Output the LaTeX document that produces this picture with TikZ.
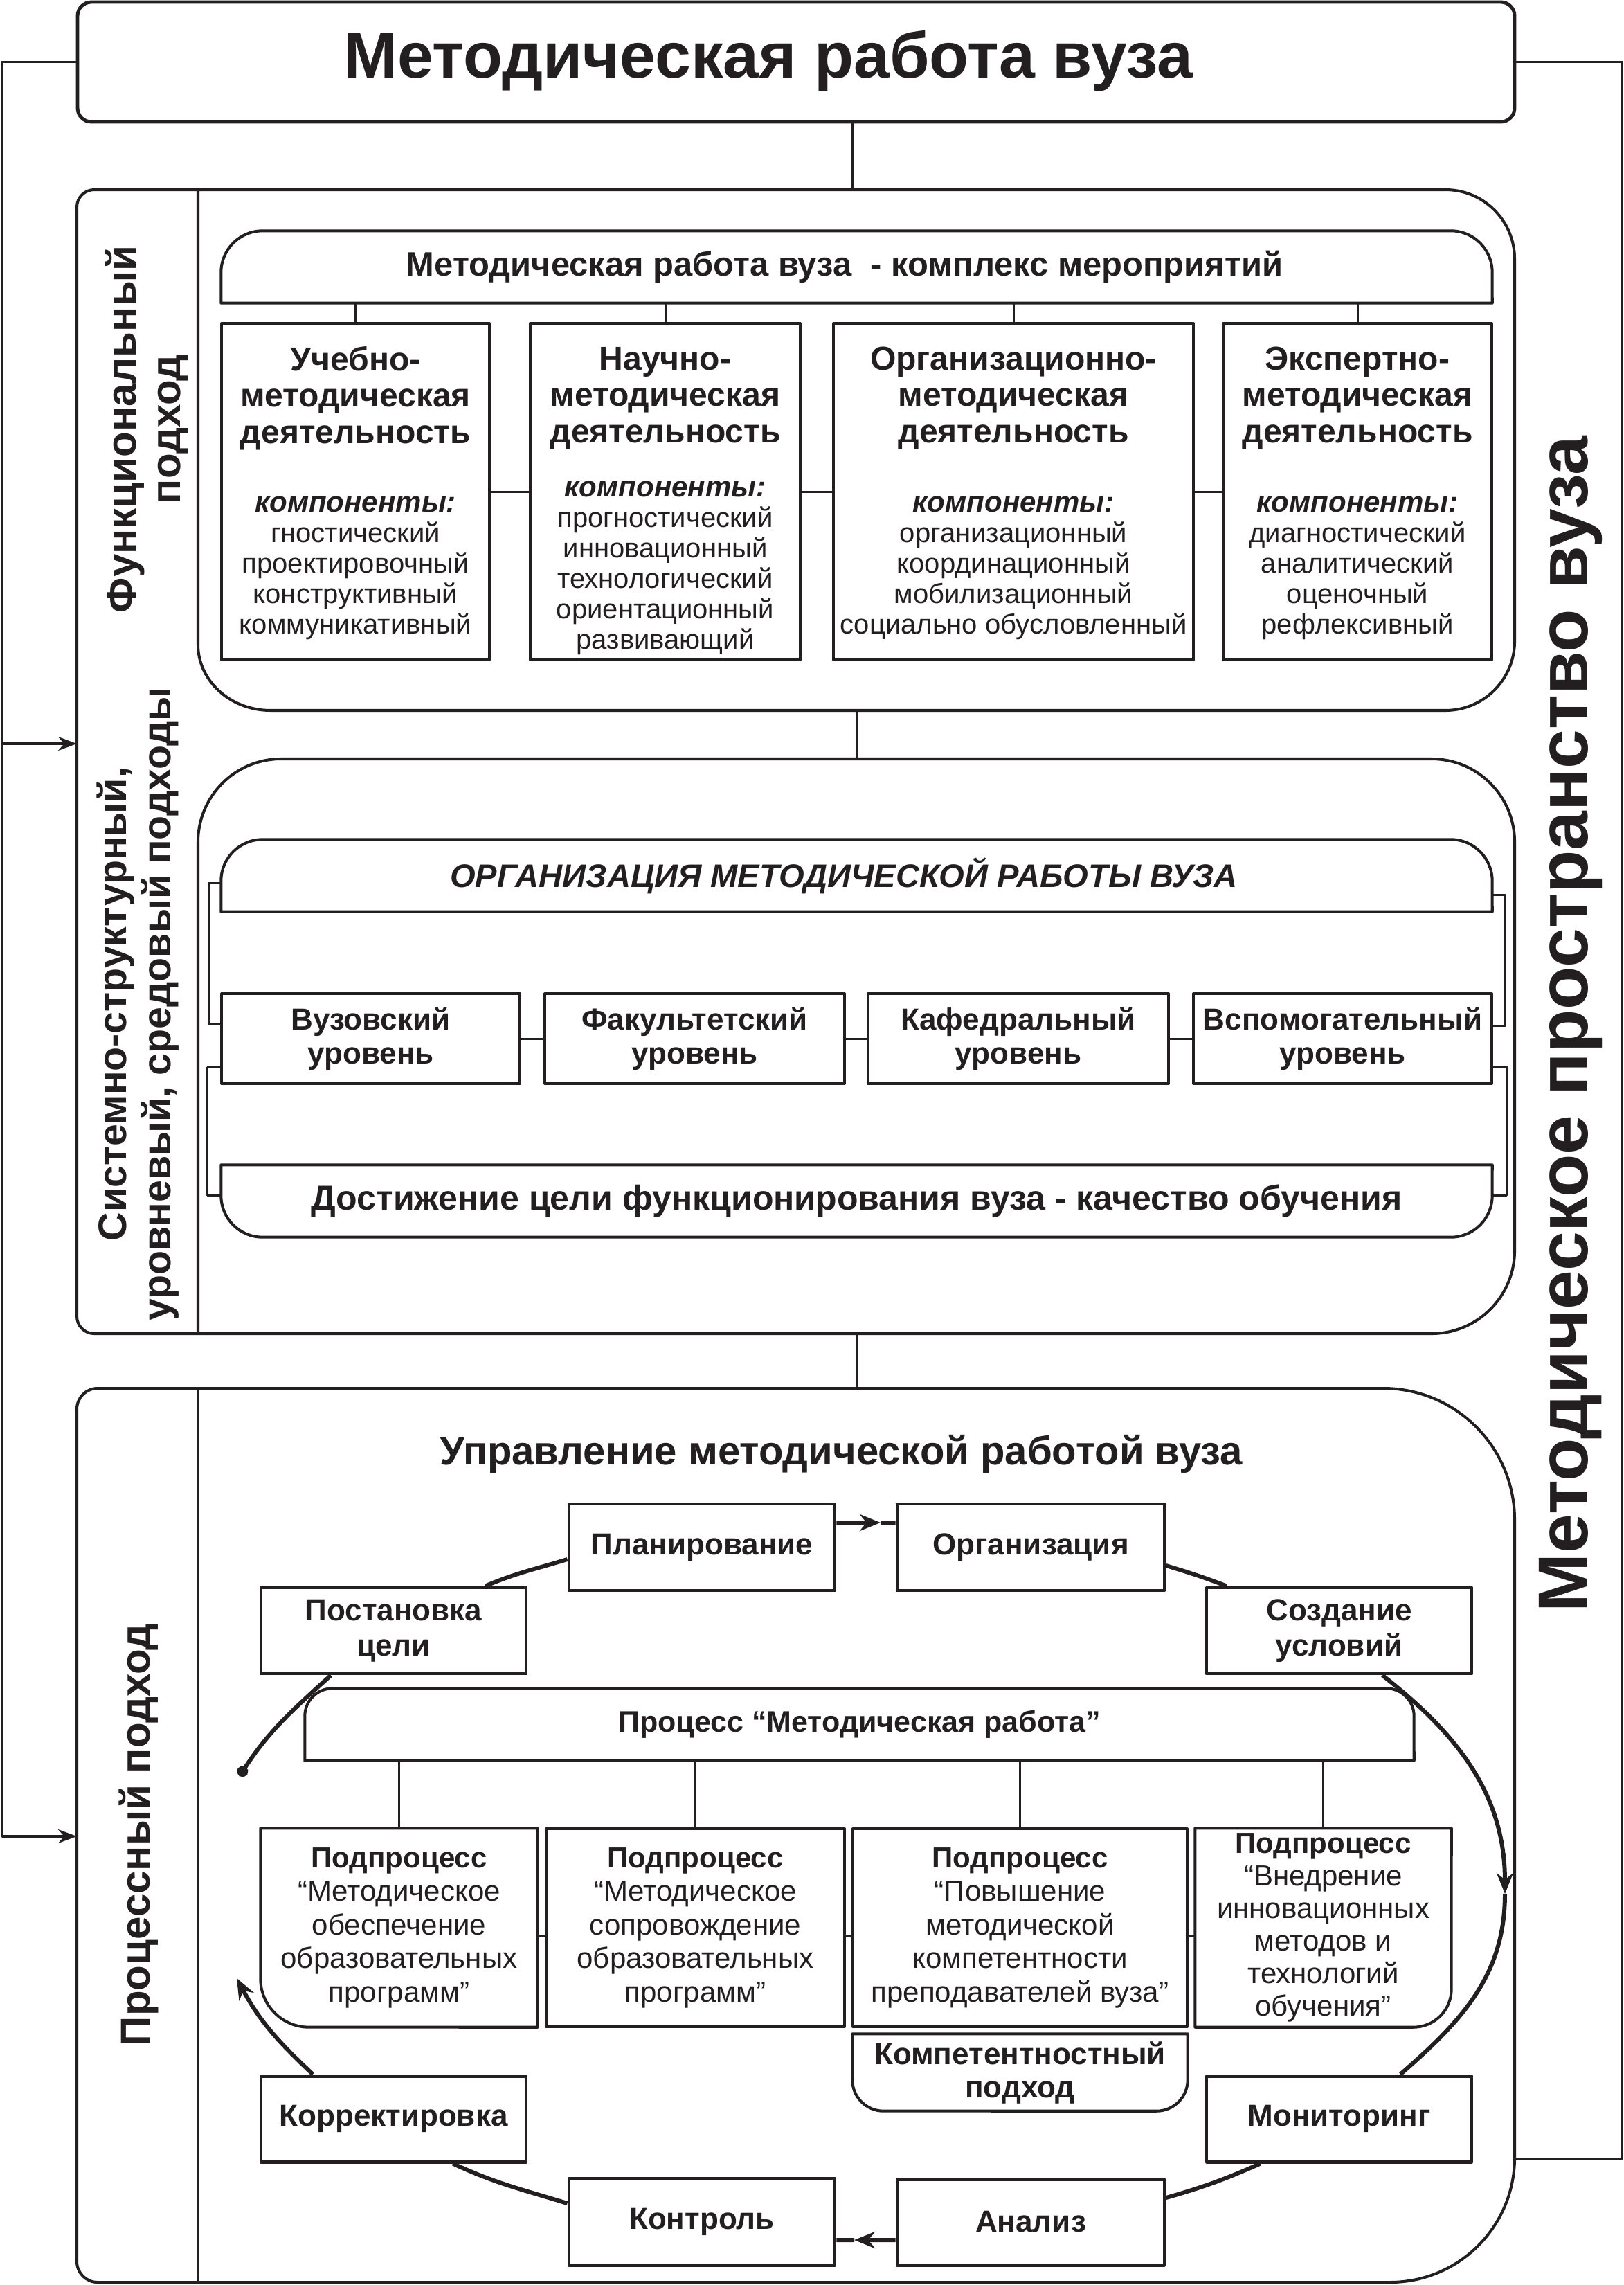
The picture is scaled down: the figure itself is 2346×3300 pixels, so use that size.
\documentclass[tikz,border=0pt]{standalone}
\usepackage{fontspec}
\setmainfont{Liberation Sans}
\usetikzlibrary{arrows.meta,calc}
\definecolor{ink}{HTML}{231F20}
\newcommand\fs[2]{\fontsize{#1}{#2}\selectfont}
\newcommand\komp{{\bfseries\itshape\fontsize{11.95pt}{12.52pt}\selectfont компоненты:}}
\newcommand\bx[6]{\node[#1, minimum width={(#5-#3)*0.01cm}, minimum height={(#6-#4)*0.01cm}] (#2) at ({(#3+#5)/2},{-(#4+#6)/2})}
\begin{document}
\begin{tikzpicture}[x=0.01cm,y=0.01cm,color=ink,line join=round,
  outl/.style={line width=1.15pt},
  bline/.style={line width=1.15pt},
  conn/.style={line width=0.85pt},
  sideline/.style={line width=1pt},
  loopline/.style={line width=1.7pt},
  midtip/.style={-{Stealth[length=0.3cm,width=0.24cm]}},
  cyc/.style={draw,line width=1.4pt,inner sep=0pt,align=center,font=\bfseries\fs{12.52pt}{14.5pt}},
  fbx/.style={draw,line width=1.15pt,inner sep=0pt},
  lvl/.style={draw,line width=1.15pt,inner sep=0pt,align=center,font=\bfseries\fs{12.52pt}{13.77pt}},
  plain/.style={inner sep=0pt},
  spx/.style={inner sep=0pt,align=center,font=\fs{11.95pt}{13.8pt}},
  ftitle/.style={inner sep=0pt,align=center,font=\bfseries\fs{13.66pt}{14.94pt}},
  fcomp/.style={inner sep=0pt,align=center,font=\fs{11.38pt}{12.52pt}},
  vlab/.style={rotate=90,inner sep=0pt,align=center,font=\bfseries\fs{17.07pt}{18.2pt}}]
\useasboundingbox (0,0) rectangle (2346,-3300);

% ---------- top box ----------
\bx{draw,line width=1.4pt,rounded corners=0.2cm,inner sep=0pt}{tb}{112}{3}{2188}{176}{};
\node[anchor=base,font=\bfseries\fs{26.5pt}{30pt}] (ttl) at (1110,-113) {Методическая работа вуза};

% side lines
\coordinate (Lt) at (3,-89.5);
\coordinate (La) at (3,-1074);
\coordinate (Lb) at (3,-2652);
\coordinate (Ia) at (111,-1074);
\coordinate (Ib) at (111,-2652);
\draw[sideline,-{Stealth[length=0.27cm,width=0.2cm]}] (tb.west) -- (Lt) -- (Lb) -- (Ib);
\draw[sideline,-{Stealth[length=0.27cm,width=0.2cm]}] (La) -- (Ia);
\coordinate (Rt) at (2343,-89.5);
\coordinate (Rb) at (2343,-3118);
\coordinate (Rc) at (2188,-3118);
\draw[sideline] (tb.east) -- (Rt) -- (Rb) -- (Rc);

% connectors between big blocks
\coordinate (ffT) at (1231,-274);
\draw[conn] (tb.south -| ffT) -- (ffT);
\coordinate (ffB) at (1237,-1026);
\coordinate (sfT) at (1237,-1096);
\draw[conn] (ffB) -- (sfT);
\coordinate (sfB) at (1237,-1926);
\coordinate (pbT) at (1237,-2005);
\draw[conn] (sfB) -- (pbT);

% ---------- upper frame ----------
\draw[outl,rounded corners=0.25cm] (286,-274) -- (111,-274) -- (111,-1926) -- (286,-1926);
\draw[outl] (286,-274) -- (2088,-274) arc[start angle=90,end angle=0,radius=100]
  -- (2188,-926) arc[start angle=0,end angle=-90,radius=100]
  -- (391,-1026) arc[start angle=270,end angle=180,x radius=105,y radius=95] -- (286,-274);
\draw[outl] (286,-1926) -- (286,-1216) arc[start angle=180,end angle=90,radius=120]
  -- (2068,-1096) arc[start angle=90,end angle=0,radius=120]
  -- (2188,-1806) arc[start angle=0,end angle=-90,radius=120] -- (286,-1926);

\node[vlab] (lab1) at (212,-620) {Функциональный\\подход};
\node[vlab,font=\bfseries\fs{16.3pt}{18.2pt}] (lab2) at (199,-1450) {Системно-структурный,\\уровневый, средовый подходы};
\node[rotate=90,anchor=base,inner sep=0pt,font=\bfseries\fs{29pt}{32pt}] (lab4) at (2293,-1479) {Методическое пространство вуза};

% functional block
\bx{plain}{hdr1}{320}{334}{2155}{437}{};
\draw[bline] (hdr1.south west) -- ([yshift=-0.6cm]hdr1.north west) arc[start angle=180,end angle=90,radius=60]
  -- ([xshift=-0.6cm]hdr1.north east) arc[start angle=90,end angle=0,radius=60] -- (hdr1.south east) -- cycle;
\node[font=\bfseries\fs{13.9pt}{15pt},inner sep=0pt] (hdr1t) at (1220,-385) {Методическая работа вуза\ \ - комплекс мероприятий};

\bx{fbx}{fb1}{320}{467}{707}{953}{};
\bx{fbx}{fb2}{766}{467}{1156}{953}{};
\bx{fbx}{fb3}{1204}{467}{1724}{953}{};
\bx{fbx}{fb4}{1767}{467}{2155}{953}{};
\foreach \b in {fb1,fb2,fb3,fb4} \draw[conn] (\b.north) -- (\b.north |- hdr1.south);
\draw[conn] (fb1) -- (fb2);
\draw[conn] (fb2) -- (fb3);
\draw[conn] (fb3) -- (fb4);

\node[ftitle] (fb1a) at (513.5,-575) {Учебно-\\методическая\\деятельность};
\node[fcomp] (fb1b) at (513.5,-820) {\komp\\гностический\\проектировочный\\конструктивный\\коммуникативный};
\node[ftitle] (fb2a) at (961,-575) {Научно-\\методическая\\деятельность};
\node[fcomp] (fb2b) at (961,-820) {\komp\\прогностический\\инновационный\\технологический\\ориентационный\\развивающий};
\node[ftitle] (fb3a) at (1464,-575) {Организационно-\\методическая\\деятельность};
\node[fcomp] (fb3b) at (1464,-820) {\komp\\организационный\\координационный\\мобилизационный\\социально обусловленный};
\node[ftitle] (fb4a) at (1961,-575) {Экспертно-\\методическая\\деятельность};
\node[fcomp] (fb4b) at (1961,-820) {\komp\\диагностический\\аналитический\\оценочный\\рефлексивный};

% structural block
\bx{plain}{hdr2}{320}{1213}{2155}{1316}{};
\draw[bline] (hdr2.south west) -- ([yshift=-0.6cm]hdr2.north west) arc[start angle=180,end angle=90,radius=60]
  -- ([xshift=-0.6cm]hdr2.north east) arc[start angle=90,end angle=0,radius=60] -- (hdr2.south east) -- cycle;
\node[font=\bfseries\itshape\fs{13.4pt}{15pt},inner sep=0pt] (hdr2t) at (1219,-1265) {ОРГАНИЗАЦИЯ МЕТОДИЧЕСКОЙ РАБОТЫ ВУЗА};

\bx{lvl}{lv1}{320}{1435}{751}{1565}{Вузовский\\уровень};
\bx{lvl}{lv2}{787}{1435}{1220}{1565}{Факультетский\\уровень};
\bx{lvl}{lv3}{1254}{1435}{1688}{1565}{Кафедральный\\уровень};
\bx{lvl}{lv4}{1724}{1435}{2155}{1565}{Вспомогательный\\уровень};
\draw[conn] (lv1) -- (lv2);
\draw[conn] (lv2) -- (lv3);
\draw[conn] (lv3) -- (lv4);

\bx{plain,font=\bfseries\fs{14.23pt}{16pt}}{goal}{320}{1683}{2155}{1786}{Достижение цели функционирования вуза - качество обучения};
\draw[bline] (goal.north west) -- ([yshift=0.6cm]goal.south west) arc[start angle=180,end angle=270,radius=60]
  -- ([xshift=-0.6cm]goal.south east) arc[start angle=270,end angle=360,radius=60] -- (goal.north east) -- cycle;

\draw[conn] ([yshift=-0.105cm]hdr2.west) -- ++(-18,0) |- ([yshift=0.21cm]lv1.west);
\draw[conn] ([yshift=-0.41cm]lv1.west) -- ++(-18,0) |- ([yshift=0.085cm]goal.west);
\draw[conn] ([yshift=-0.275cm]hdr2.east) -- ++(19,0) |- ([yshift=0.19cm]lv4.east);
\draw[conn] ([yshift=-0.4cm]lv4.east) -- ++(19,0) |- ([yshift=0.085cm]goal.east);

% ---------- process frame ----------
\draw[outl] (141,-2005) -- (1998,-2005) arc[start angle=90,end angle=0,radius=190]
  -- (2188,-3116) arc[start angle=0,end angle=-90,radius=180]
  -- (141,-3296) arc[start angle=270,end angle=180,radius=30]
  -- (111,-2035) arc[start angle=180,end angle=90,radius=30] -- cycle;
\draw[outl] (286,-2005) -- (286,-3296);
\node[rotate=90,anchor=base,inner sep=0pt,font=\bfseries\fs{17.07pt}{18.2pt}] (lab3) at (216,-2650) {Процессный подход};

\node[anchor=base,font=\bfseries\fs{16.5pt}{18pt},inner sep=0pt] (ptitle) at (1215,-2115) {Управление методической работой вуза};

\bx{cyc}{post}{377}{2293}{760}{2417}{Постановка\\цели};
\bx{cyc}{plan}{822}{2172}{1206}{2297}{Планирование};
\bx{cyc}{org}{1296}{2172}{1682}{2297}{Организация};
\bx{cyc}{cond}{1743}{2293}{2126}{2417}{Создание\\условий};
\bx{cyc}{mon}{1743}{2998}{2126}{3122}{Мониторинг};
\bx{cyc}{anal}{1296}{3147}{1682}{3271}{Анализ};
\bx{cyc}{ctrl}{822}{3146}{1206}{3271}{Контроль};
\bx{cyc}{corr}{377}{2998}{760}{3122}{Корректировка};

\bx{plain,font=\bfseries\fs{12.23pt}{14pt}}{phdr}{441}{2439}{2042}{2542}{Процесс “Методическая работа”};
\draw[bline] (phdr.south west) -- ([yshift=-0.4cm]phdr.north west) arc[start angle=180,end angle=90,radius=40]
  -- ([xshift=-0.4cm]phdr.north east) arc[start angle=90,end angle=0,radius=40] -- (phdr.south east) -- cycle;

\bx{spx}{sp1}{377}{2641}{776}{2927}{\textbf{Подпроцесс}\\“Методическое\\обеспечение\\образовательных\\программ”};
\draw[bline] (sp1.north west) -- ([yshift=0.7cm]sp1.south west) arc[start angle=180,end angle=270,radius=70]
  -- (sp1.south east) -- (sp1.north east) -- cycle;
\bx{spx,draw,line width=1.15pt}{sp2}{789}{2641}{1220}{2927}{\textbf{Подпроцесс}\\“Методическое\\сопровождение\\образовательных\\программ”};
\bx{spx,draw,line width=1.15pt}{sp3}{1232}{2641}{1715}{2927}{\textbf{Подпроцесс}\\“Повышение\\методической\\компетентности\\преподавателей вуза”};
\bx{spx,font=\fs{11.95pt}{13.37pt}}{sp4}{1727}{2641}{2096}{2927}{\textbf{Подпроцесс}\\“Внедрение\\инновационных\\методов и\\технологий\\обучения”};
\draw[bline] (sp4.north west) -- (sp4.south west) -- ([xshift=-0.55cm]sp4.south east) arc[start angle=270,end angle=360,radius=55]
  -- (sp4.north east) -- cycle;
\foreach \b in {sp1,sp2,sp3,sp4} \draw[conn] (\b.north) -- (\b.north |- phdr.south);
\draw[conn] ([yshift=-0.11cm]sp1.east) -- ([yshift=-0.11cm]sp2.west);
\draw[conn] ([yshift=-0.11cm]sp2.east) -- ([yshift=-0.11cm]sp3.west);
\draw[conn] ([yshift=-0.11cm]sp3.east) -- ([yshift=-0.11cm]sp4.west);

\bx{plain,align=center,font=\bfseries\fs{12.52pt}{13.66pt}}{comp}{1232}{2938}{1715}{3048}{Компетентностный\\подход};
\draw[bline] (comp.north west) -- ([yshift=0.45cm]comp.south west) arc[start angle=180,end angle=270,radius=45]
  -- ([xshift=-0.45cm]comp.south east) arc[start angle=270,end angle=360,radius=45] -- (comp.north east) -- cycle;

% cycle
\coordinate (M1) at (1272,-2199);
\coordinate (M2) at (1234,-3235);
\coordinate (R) at (2174,-2735);
\coordinate (T) at (342,-2857);
\coordinate (D) at (346,-2565);
\draw[loopline] ([xshift=1.325cm]post.north) to[out=23,in=197] ([yshift=-0.175cm]plan.west);
\draw[loopline,midtip] ([yshift=0.355cm]plan.east) -- (M1);
\draw[loopline] (M1) -- ([yshift=0.355cm]org.west);
\draw[loopline] ([yshift=-0.265cm]org.east) to[out=-17,in=159] ([xshift=-1.625cm]cond.north);
\draw[loopline,midtip] ([xshift=0.625cm]cond.south) to[out=-38,in=90] (R);
\draw[loopline] (R) to[out=-90,in=41] ([xshift=0.885cm]mon.north);
\draw[loopline] ([xshift=-1.135cm]mon.south) to[out=204,in=16] ([yshift=0.35cm]anal.east);
\draw[loopline,midtip] ([yshift=-0.26cm]anal.west) -- (M2);
\draw[loopline] (M2) -- ([yshift=-0.265cm]ctrl.east);
\draw[loopline] ([yshift=0.265cm]ctrl.west) to[out=163,in=-25] ([xshift=0.855cm]corr.south);
\draw[loopline,midtip] ([xshift=-1.165cm]corr.north) to[out=137,in=-62] (T);
\draw[loopline,{Circle[length=0.16cm]}-] (D) to[out=57,in=222] ([xshift=-0.905cm]post.south);
\end{tikzpicture}
\end{document}
